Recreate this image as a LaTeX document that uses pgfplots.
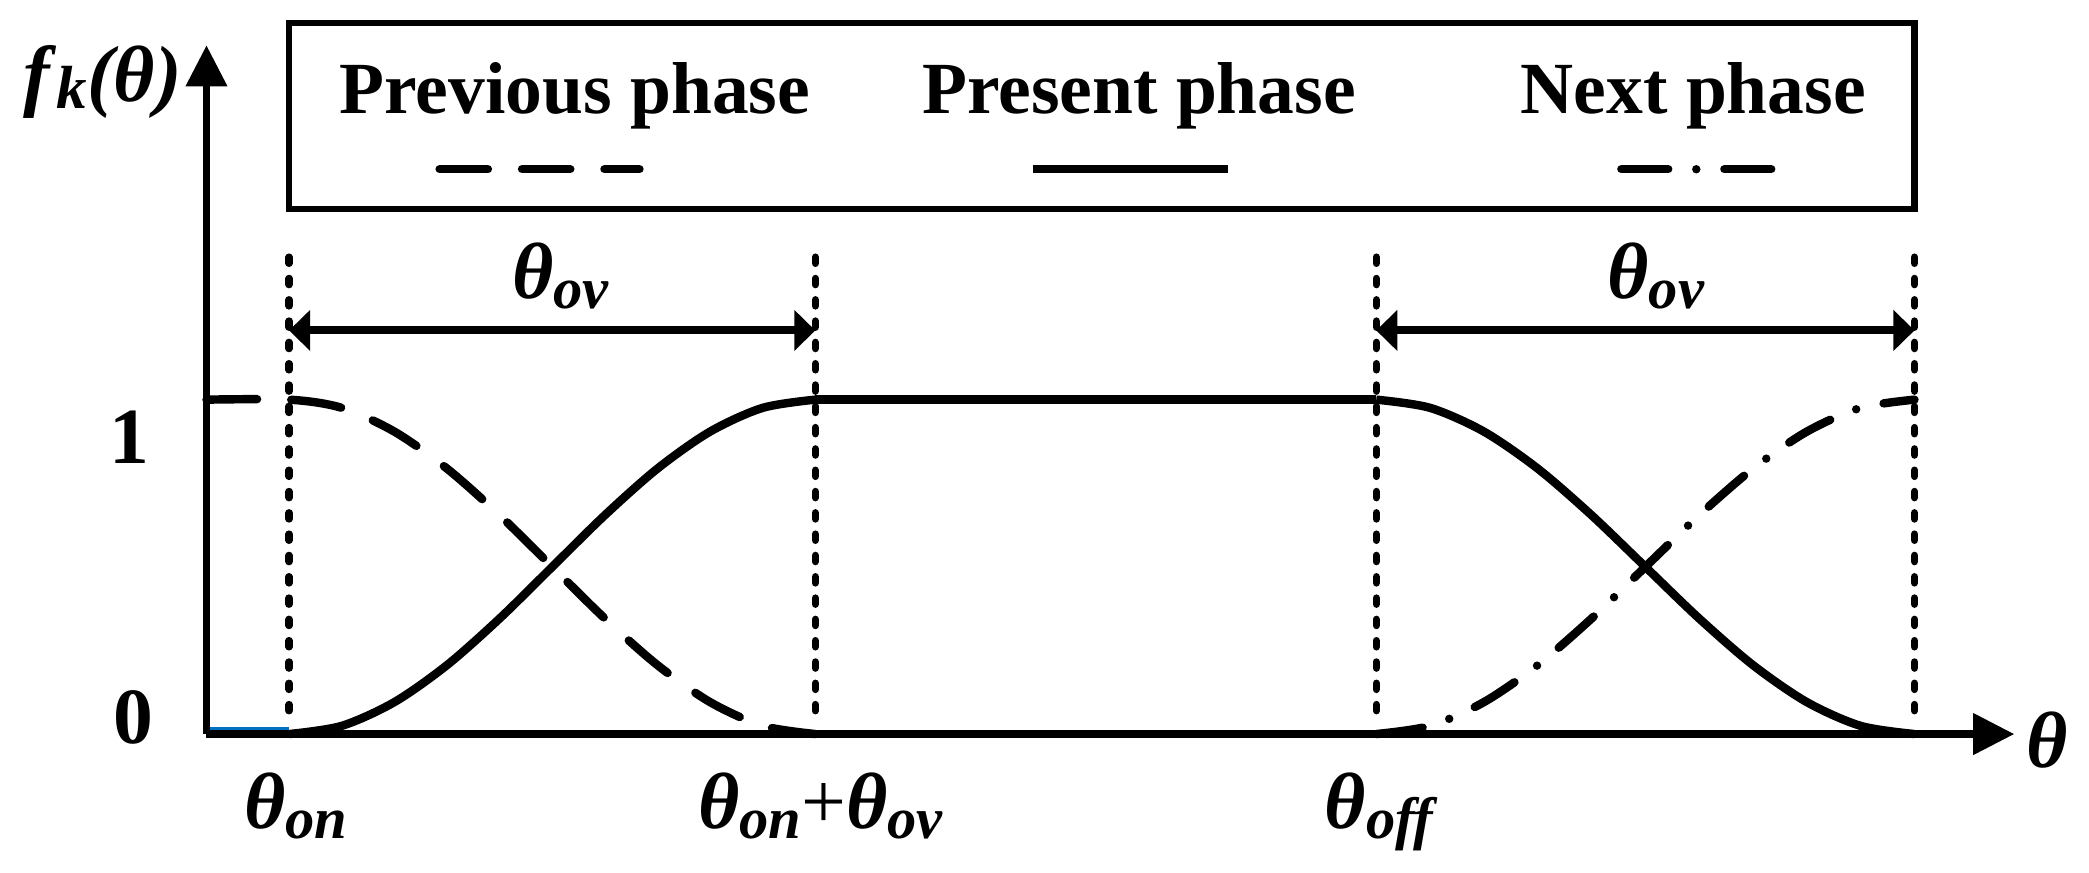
\documentclass[border=0pt]{standalone}
\usepackage{pgfplots}
\pgfplotsset{compat=1.18}
\usepackage{fontspec}
\setmainfont{Liberation Serif}
\usetikzlibrary{arrows.meta}
\definecolor{segblue}{RGB}{0,112,192}

\newcommand{\bth}{\textbf{\textit{θ}}}
\newcommand{\thsub}[1]{\bth\raisebox{-2.2pt}{\fontsize{12.5}{14}\selectfont\textbf{\textit{#1}}}}
\newcommand{\lblfont}{\fontsize{17}{20}\selectfont}
\newcommand{\legfont}{\fontsize{15.7}{18}\selectfont\bfseries}

\begin{document}
\begin{tikzpicture}
\begin{axis}[
  x=1cm, y=2.51cm,
  xmin=0, xmax=13.57, ymin=0, ymax=2.06,
  axis lines=left,
  axis line style={line width=1.7pt, -{Triangle[length=8.8pt,width=8.5pt]}},
  xtick=\empty, ytick=\empty,
  clip=false,
]
% small blue segment on the axis
\addplot[segblue, line width=0.7pt, no marks] coordinates {(0.03,0.016) (0.62,0.016)};

% present phase (solid)
\addplot[black, line width=1.8pt, no marks, smooth] coordinates {
(0.620,0) (1.015,0.0245) (1.410,0.0955) (1.805,0.2061) (2.200,0.3455) (2.595,0.5)
(2.990,0.6545) (3.385,0.7939) (3.780,0.9045) (4.175,0.9755) (4.570,1)};
\addplot[black, line width=1.8pt, no marks, sharp plot] coordinates {(4.570,1) (8.780,1)};
\addplot[black, line width=1.8pt, no marks, smooth] coordinates {
(8.780,1) (9.184,0.9755) (9.588,0.9045) (9.992,0.7939) (10.396,0.6545) (10.800,0.5)
(11.204,0.3455) (11.608,0.2061) (12.012,0.0955) (12.416,0.0245) (12.820,0)};

% previous phase (dashed)
\addplot[black, line width=1.8pt, no marks, smooth, line cap=round, dash pattern=on 10.8pt off 7.3pt] coordinates {
(0,1) (0.620,1) (1.015,0.9755) (1.410,0.9045) (1.805,0.7939) (2.200,0.6545) (2.595,0.5)
(2.990,0.3455) (3.385,0.2061) (3.780,0.0955) (4.175,0.0245) (4.570,0)};

% next phase (dash-dot)
\addplot[black, line width=1.8pt, no marks, smooth, line cap=round, dash pattern=on 10pt off 6pt on 0pt off 6pt] coordinates {
(8.780,0) (9.184,0.0245) (9.588,0.0955) (9.992,0.2061) (10.396,0.3455) (10.800,0.5)
(11.204,0.6545) (11.608,0.7939) (12.012,0.9045) (12.416,0.9755) (12.820,1)};

% vertical dotted guide lines
\draw[line width=1.6pt, line cap=round, dash pattern=on 1.3pt off 3.25pt]
  (axis cs:0.62,1.426) -- (axis cs:0.62,0.03)
  (axis cs:4.57,1.426) -- (axis cs:4.57,0.03)
  (axis cs:8.78,1.426) -- (axis cs:8.78,0.03)
  (axis cs:12.82,1.426) -- (axis cs:12.82,0.03);

% overlap arrows
\draw[line width=1.7pt, {Triangle[length=4.5pt,width=8.5pt]}-{Triangle[length=4.5pt,width=8.5pt]}]
  (axis cs:0.62,1.207) -- (axis cs:4.57,1.207);
\draw[line width=1.7pt, {Triangle[length=4.5pt,width=8.5pt]}-{Triangle[length=4.5pt,width=8.5pt]}]
  (axis cs:8.78,1.207) -- (axis cs:12.82,1.207);
\node[anchor=base, inner sep=0pt, font=\lblfont] at (axis cs:2.66,1.303) {\thsub{ov}};
\node[anchor=base, inner sep=0pt, font=\lblfont] at (axis cs:10.88,1.303) {\thsub{ov}};

% legend box
\draw[line width=1.4pt] (axis cs:0.62,1.570) rectangle (axis cs:12.82,2.127);
\node[anchor=base, inner sep=0pt, font=\legfont] at (axis cs:2.765,1.857) {Previous phase};
\node[anchor=base, inner sep=0pt, font=\legfont] at (axis cs:7.00,1.857) {Present phase};
\node[anchor=base, inner sep=0pt, font=\legfont] at (axis cs:11.16,1.857) {Next phase};
\draw[line width=1.8pt, line cap=round, dash pattern=on 10.3pt off 7.3pt]
  (axis cs:1.75,1.689) -- (axis cs:3.25,1.689);
\draw[line width=1.8pt] (axis cs:6.20,1.689) -- (axis cs:7.67,1.689);
\draw[line width=1.8pt, line cap=round, dash pattern=on 10pt off 6pt on 0pt off 6pt]
  (axis cs:10.62,1.689) -- (axis cs:11.85,1.689);

% axis labels and tick labels
\node[anchor=base, inner sep=0pt, font=\fontsize{17}{20}\selectfont] at (axis cs:-0.78,1.892)
  {\textbf{\textit{f}}\raisebox{-1.5pt}{\fontsize{13}{15}\selectfont\textbf{\textit{k}}}\textbf{\textit{(θ)}}};
\node[anchor=base, inner sep=0pt, font=\lblfont] at (axis cs:13.815,-0.10) {\bth};
\node[anchor=base, inner sep=0pt, font=\lblfont\bfseries] at (axis cs:-0.58,0.81) {1};
\node[anchor=base, inner sep=0pt, font=\lblfont\bfseries] at (axis cs:-0.55,-0.027) {0};
\node[anchor=base, inner sep=0pt, font=\lblfont] at (axis cs:0.67,-0.281) {\thsub{on}};
\node[anchor=base, inner sep=0pt, font=\lblfont] at (axis cs:4.61,-0.281) {\thsub{on}+\thsub{ov}};
\node[anchor=base, inner sep=0pt, font=\lblfont] at (axis cs:8.82,-0.281) {\thsub{off}};

\coordinate (bbsw) at (axis cs:-1.55,-0.4143);
\coordinate (bbne) at (axis cs:14.13,2.1952);
\end{axis}
\pgfresetboundingbox
\useasboundingbox (bbsw) rectangle (bbne);
\end{tikzpicture}
\end{document}
